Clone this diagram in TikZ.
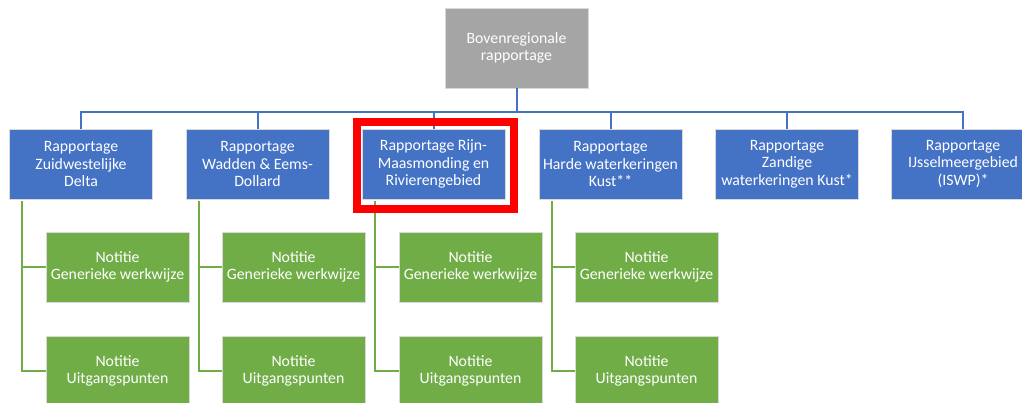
\documentclass[tikz,border=0pt]{standalone}
\usepackage{fontspec}
\setmainfont{Carlito}
\definecolor{cblue}{HTML}{4472C4}
\definecolor{cgreen}{HTML}{70AD47}
\definecolor{cgray}{HTML}{A5A5A5}
\definecolor{cred}{HTML}{FF0000}
\begin{document}
\begin{tikzpicture}[x=1pt,y=1pt,
  boxbase/.style={rectangle, minimum width=143pt, minimum height=70pt, inner sep=1pt,
     draw=white!85!black, line width=0.6pt, text=white, align=center,
     font=\fontsize{15.8}{17.5}\selectfont},
  topbox/.style={boxbase, fill=cgray, minimum height=80pt},
  bluebox/.style={boxbase, fill=cblue},
  greenbox/.style={boxbase, fill=cgreen},
  blueline/.style={draw=cblue, line width=2pt},
  greenline/.style={draw=cgreen, line width=2pt},
  redframe/.style={draw=cred, line width=8pt}]
\useasboundingbox (0,0) rectangle (1022,-403);
\node[topbox] (top) at (516.5,-48) {Bovenregionale\\rapportage};
\node[bluebox] (b1) at (81,-164) {Rapportage\\Zuidwestelijke\\Delta};
\node[bluebox] (b2) at (257.5,-164) {Rapportage\\Wadden \& Eems-\\Dollard};
\node[bluebox] (b3) at (433.5,-164) {Rapportage Rijn-\\Maasmonding en\\Rivierengebied};
\node[bluebox] (b4) at (610.5,-164) {Rapportage\\Harde waterkeringen\\Kust**};
\node[bluebox] (b5) at (787,-164) {Rapportage\\Zandige\\waterkeringen Kust*};
\node[bluebox] (b6) at (963,-164) {Rapportage\\IJsselmeergebied\\(ISWP)*};
\coordinate (bus) at (516.5,-112);
\draw[blueline] (top.south) -- (bus);
\foreach \i in {1,...,6} {\draw[blueline] (bus) -| (b\i.north);}
\foreach \i/\x in {1/117.5,2/293.5,3/470.5,4/646.5} {
  \node[greenbox] (g\i a) at (\x,-267) {Notitie\\Generieke werkwijze};
  \node[greenbox] (g\i b) at (\x,-371) {Notitie\\Uitgangspunten};
  \coordinate (s\i) at ([xshift=13pt,yshift=-2pt]b\i.south west);
  \draw[greenline] (s\i) |- (g\i a.west);
  \draw[greenline] (s\i) |- (g\i b.west);
}
\draw[redframe] ([shift={(-5,7)}]b3.north west) rectangle ([shift={(9,-10)}]b3.south east);
\end{tikzpicture}
\end{document}
